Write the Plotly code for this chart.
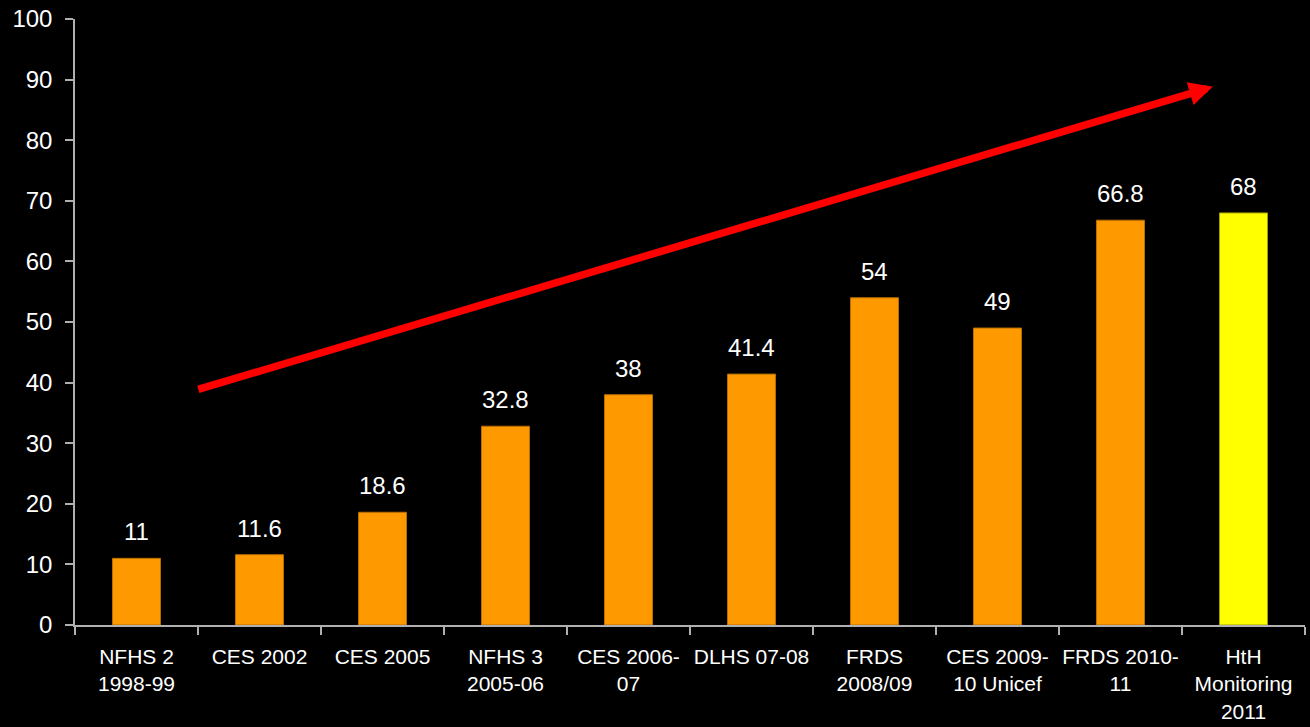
import plotly.graph_objects as go

categories = ["NFHS 2<br>1998-99", "CES 2002", "CES 2005", "NFHS 3<br>2005-06",
              "CES 2006-<br>07", "DLHS 07-08", "FRDS<br>2008/09", "CES 2009-<br>10 Unicef",
              "FRDS 2010-<br>11", "HtH<br>Monitoring<br>2011"]
values = [11, 11.6, 18.6, 32.8, 38, 41.4, 54, 49, 66.8, 68]
value_labels = ["11", "11.6", "18.6", "32.8", "38", "41.4", "54", "49", "66.8", "68"]
bar_colors = ["#FF9900"] * 9 + ["#FFFF00"]
bar_edges = ["#B86E00"] * 9 + ["#A0A000"]

# trend arrow (category-index / value coordinates)
arrow_start = (0.49, 38.8)
arrow_end = (8.75, 88.8)

FONT = "Liberation Sans, Arial, sans-serif"

fig = go.Figure()
fig.add_trace(go.Bar(
    x=categories, y=values, width=0.39,
    marker=dict(color=bar_colors, line=dict(color=bar_edges, width=1)),
    hoverinfo="skip",
))

for i, (v, t) in enumerate(zip(values, value_labels)):
    fig.add_annotation(x=i, y=v, text=t, showarrow=False, yanchor="bottom",
                       yshift=11, font=dict(family=FONT, size=24, color="white"))

fig.add_annotation(x=arrow_end[0], y=arrow_end[1], ax=arrow_start[0], ay=arrow_start[1],
                   xref="x", yref="y", axref="x", ayref="y", text="",
                   showarrow=True, arrowhead=2, arrowsize=0.63, arrowwidth=7.5,
                   arrowcolor="#FF0000", standoff=0)

fig.update_layout(
    width=1310, height=727,
    paper_bgcolor="black", plot_bgcolor="black",
    margin=dict(l=75, r=5, t=19, b=102),
    showlegend=False,
    font=dict(family=FONT, color="white"),
)
fig.update_xaxes(
    type="category", range=[-0.5, 9.5], automargin=False, tickangle=0,
    showline=True, linecolor="#B0B0B0", linewidth=1.5,
    ticks="outside", tickson="boundaries", ticklen=8, tickcolor="#B0B0B0", tickwidth=1.5,
    showgrid=False, tickfont=dict(family=FONT, size=21, color="white"),
    ticklabelstandoff=12,
)
fig.update_yaxes(
    range=[0, 100], dtick=10, automargin=False,
    showline=True, linecolor="#B0B0B0", linewidth=1.5,
    ticks="outside", ticklen=8, tickcolor="#B0B0B0", tickwidth=1.5,
    showgrid=False, zeroline=False, tickfont=dict(family=FONT, size=24, color="white"),
    ticklabelstandoff=8,
)

fig.write_html(
    "out.html",
    config={"displayModeBar": False},
    post_script="document.body.style.margin='0';document.body.style.background='black';",
)
